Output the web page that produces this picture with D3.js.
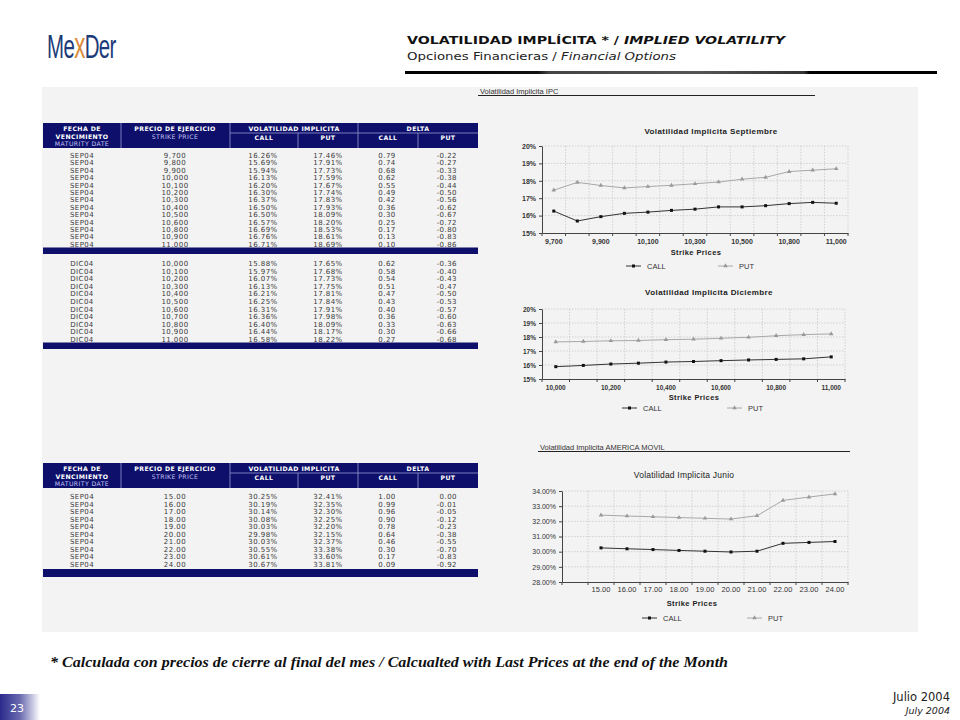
<!DOCTYPE html>
<html><head><meta charset="utf-8">
<script src="https://cdn.jsdelivr.net/npm/d3@7"></script>
<style>
html,body{margin:0;padding:0;background:#fff;}
svg{display:block;}
</style></head>
<body>
<svg id="page" width="960" height="720"></svg>
<script>
// ---------- DATA ----------
const sepStrikes = ["9,700","9,800","9,900","10,000","10,100","10,200","10,300","10,400","10,500","10,600","10,800","10,900","11,000"];
const sepCallVol = [16.26,15.69,15.94,16.13,16.20,16.30,16.37,16.50,16.50,16.57,16.69,16.76,16.71];
const sepPutVol  = [17.46,17.91,17.73,17.59,17.67,17.74,17.83,17.93,18.09,18.20,18.53,18.61,18.69];
const sepCallDelta = [0.79,0.74,0.68,0.62,0.55,0.49,0.42,0.36,0.30,0.25,0.17,0.13,0.10];
const sepPutDelta  = [-0.22,-0.27,-0.33,-0.38,-0.44,-0.50,-0.56,-0.62,-0.67,-0.72,-0.80,-0.83,-0.86];

const dicStrikes = ["10,000","10,100","10,200","10,300","10,400","10,500","10,600","10,700","10,800","10,900","11,000"];
const dicCallVol = [15.88,15.97,16.07,16.13,16.21,16.25,16.31,16.36,16.40,16.44,16.58];
const dicPutVol  = [17.65,17.68,17.73,17.75,17.81,17.84,17.91,17.98,18.09,18.17,18.22];
const dicCallDelta = [0.62,0.58,0.54,0.51,0.47,0.43,0.40,0.36,0.33,0.30,0.27];
const dicPutDelta  = [-0.36,-0.40,-0.43,-0.47,-0.50,-0.53,-0.57,-0.60,-0.63,-0.66,-0.68];

const amxStrikes = ["15.00","16.00","17.00","18.00","19.00","20.00","21.00","22.00","23.00","24.00"];
const amxCallVol = [30.25,30.19,30.14,30.08,30.03,29.98,30.03,30.55,30.61,30.67];
const amxPutVol  = [32.41,32.35,32.30,32.25,32.20,32.15,32.37,33.38,33.60,33.81];
const amxCallDelta = [1.00,0.99,0.96,0.90,0.78,0.64,0.46,0.30,0.17,0.09];
const amxPutDelta  = [0.00,-0.01,-0.05,-0.12,-0.23,-0.38,-0.55,-0.70,-0.83,-0.92];

const ipcTicks = [15,16,17,18,19,20];
const amxTicks = [28,29,30,31,32,33,34];

// ---------- PAGE ----------
const svg = d3.select("#page");
const NAVY = "#0d0f6b";
const TXT = "#3a3a3a";
const defs = svg.append("defs");
const f2 = v => v.toFixed(2);

// header rule gradient
const lg = defs.append("linearGradient").attr("id","rule").attr("x1","0").attr("x2","1");
lg.append("stop").attr("offset","0").attr("stop-color","#000");
lg.append("stop").attr("offset","0.25").attr("stop-color","#111");
lg.append("stop").attr("offset","0.27").attr("stop-color","#444");
lg.append("stop").attr("offset","0.55").attr("stop-color","#555");
lg.append("stop").attr("offset","0.75").attr("stop-color","#333");
lg.append("stop").attr("offset","0.76").attr("stop-color","#000");
lg.append("stop").attr("offset","1").attr("stop-color","#000");
const bg = defs.append("linearGradient").attr("id","badge").attr("x1","0").attr("x2","1");
bg.append("stop").attr("offset","0").attr("stop-color","#2b2b8c");
bg.append("stop").attr("offset","0.5").attr("stop-color","#6a6ab0");
bg.append("stop").attr("offset","1").attr("stop-color","#ffffff");

// Logo
const logo = svg.append("text").attr("transform","translate(47,58) scale(0.62,1)")
  .attr("font-family","Liberation Sans, Arial, sans-serif")
  .attr("font-size",33).attr("fill","#1d3b78").attr("letter-spacing",-1);
logo.append("tspan").text("Me");
logo.append("tspan").attr("fill","#d98b3c").attr("font-size",36).text("x");
logo.append("tspan").text("Der");

// Title
svg.append("text").attr("x",407).attr("y",44)
  .attr("font-family","DejaVu Sans, Verdana, sans-serif").attr("font-size",11).attr("font-weight","bold")
  .attr("fill","#111").attr("textLength",378).attr("lengthAdjust","spacingAndGlyphs")
  .html('VOLATILIDAD IMPLÍCITA * / <tspan font-style="italic">IMPLIED VOLATILITY</tspan>');
svg.append("text").attr("x",407).attr("y",60)
  .attr("font-family","DejaVu Sans, Verdana, sans-serif").attr("font-size",11)
  .attr("fill","#222").attr("textLength",269).attr("lengthAdjust","spacingAndGlyphs")
  .html('Opciones Financieras / <tspan font-style="italic">Financial Options</tspan>');
svg.append("rect").attr("x",405).attr("y",71).attr("width",532).attr("height",3).attr("fill","url(#rule)");

// Panel
svg.append("rect").attr("x",42).attr("y",87).attr("width",876).attr("height",545).attr("fill","#f3f3f3");

// ---------- TABLES ----------
const cols = {date:82, strike:175, cv:263, pv:328, cd:387, pd:457};
function tableHeader(y0){
  const g = svg.append("g");
  g.append("rect").attr("x",43).attr("y",y0).attr("width",435).attr("height",25).attr("fill",NAVY);
  const sep = "#9a9ad0";
  [[121,y0,y0+25],[230,y0,y0+25],[358,y0,y0+25],[298,y0+10,y0+25],[418,y0+10,y0+25]].forEach(d=>{
    g.append("line").attr("x1",d[0]).attr("x2",d[0]).attr("y1",d[1]).attr("y2",d[2]).attr("stroke",sep).attr("stroke-width",0.8);
  });
  g.append("line").attr("x1",230).attr("x2",478).attr("y1",y0+10).attr("y2",y0+10).attr("stroke",sep).attr("stroke-width",0.8);
  const t = (x,y,s,bold,col)=>g.append("text").attr("x",x).attr("y",y).attr("text-anchor","middle")
    .attr("dominant-baseline","central").attr("font-family","DejaVu Sans, Verdana, sans-serif")
    .attr("font-size",6.2).attr("font-weight",bold?"bold":"normal").attr("letter-spacing",0.4)
    .attr("fill",col||"#fff").text(s);
  t(82,y0+5,"FECHA DE",true);
  t(82,y0+13,"VENCIMIENTO",true);
  t(82,y0+20.5,"MATURITY DATE",false,"#c4c4f4");
  t(175,y0+5,"PRECIO DE EJERCICIO",true);
  t(175,y0+13,"STRIKE PRICE",false,"#c4c4f4");
  t(294,y0+5,"VOLATILIDAD IMPLICITA",true);
  t(264,y0+14,"CALL",true); t(328,y0+14,"PUT",true);
  t(418,y0+5,"DELTA",true);
  t(388,y0+14,"CALL",true); t(448,y0+14,"PUT",true);
}
function tableRows(y0, step, date, strikes, cv, pv, cd, pd){
  const g = svg.append("g").attr("font-family","DejaVu Sans, Verdana, sans-serif").attr("font-size",7)
    .attr("letter-spacing",0.45).attr("fill",TXT);
  const rows = g.selectAll("g").data(strikes).join("g").attr("transform",(d,i)=>`translate(0,${y0+i*step})`);
  const cell = (x,anchor,fn)=>rows.append("text").attr("x",x).attr("text-anchor",anchor).attr("dominant-baseline","central").text(fn);
  cell(cols.date,"middle",()=>date);
  cell(cols.strike,"middle",d=>d);
  cell(cols.cv,"middle",(d,i)=>f2(cv[i])+"%");
  cell(cols.pv,"middle",(d,i)=>f2(pv[i])+"%");
  cell(cols.cd,"middle",(d,i)=>f2(cd[i]));
  cell(cols.pd,"end",(d,i)=>f2(pd[i]));
}
function bar(y,h){ svg.append("rect").attr("x",43).attr("y",y).attr("width",435).attr("height",h).attr("fill",NAVY); }

tableHeader(123);
tableRows(156,7.4,"SEP04",sepStrikes,sepCallVol,sepPutVol,sepCallDelta,sepPutDelta);
bar(247.5,6.5);
tableRows(264,7.6,"DIC04",dicStrikes,dicCallVol,dicPutVol,dicCallDelta,dicPutDelta);
bar(342.5,6.5);

tableHeader(463);
tableRows(497,7.55,"SEP04",amxStrikes,amxCallVol,amxPutVol,amxCallDelta,amxPutDelta);
bar(569,8);

// ---------- CHARTS ----------
function sectionLabel(x,y,x2,s){
  svg.append("text").attr("x",x).attr("y",y).attr("dominant-baseline","central")
    .attr("font-family","Liberation Sans, Arial, sans-serif").attr("font-size",7.5).attr("fill","#333").text(s);
  svg.append("line").attr("x1",x-2).attr("x2",x2).attr("y1",y+4).attr("y2",y+4).attr("stroke","#222").attr("stroke-width",1);
}
sectionLabel(480,91.5,815,"Volatilidad Implicita IPC");
sectionLabel(540,447.5,850,"Volatilidad Implicita AMERICA MOVIL");

function lineChart(c){
  const g = svg.append("g").attr("font-family","Liberation Sans, Arial, sans-serif");
  const x = d3.scaleBand().domain(c.domainX).range([c.x0,c.x1]).paddingInner(0).paddingOuter(0);
  const y = d3.scaleLinear().domain([c.ticks[0],c.ticks[c.ticks.length-1]]).range([c.yBot,c.yTop]);
  const cx = d => x(d)+x.bandwidth()/2;
  // grid
  const bounds = c.domainX.slice(1).map(d=>x(d)).concat([c.x1]);
  g.append("g").selectAll("line").data(bounds).join("line")
    .attr("x1",d=>d).attr("x2",d=>d).attr("y1",c.yTop).attr("y2",c.yBot)
    .attr("stroke","#c8c8c8").attr("stroke-width",0.8).attr("stroke-dasharray","1.5,1.5");
  g.append("g").selectAll("line").data(c.ticks.slice(1)).join("line")
    .attr("x1",c.x0).attr("x2",c.x1).attr("y1",d=>y(d)).attr("y2",d=>y(d))
    .attr("stroke","#c8c8c8").attr("stroke-width",0.8).attr("stroke-dasharray","1.5,1.5");
  // axes
  const ya = g.append("g").attr("transform",`translate(${c.x0},0)`)
    .call(d3.axisLeft(y).tickValues(c.ticks).tickFormat(c.yFmt).tickSize(3).tickSizeOuter(0));
  ya.select(".domain").attr("stroke","#444");
  ya.selectAll(".tick line").attr("stroke","#444");
  ya.selectAll(".tick text").attr("font-size",c.yFont).attr("fill","#333").attr("font-weight",c.yBold?"bold":"normal")
    .attr("font-family","Liberation Sans, Arial, sans-serif");
  const xa = g.append("g").attr("transform",`translate(0,${c.yBot})`)
    .call(d3.axisBottom(x).tickValues(c.labels).tickSize(0).tickPadding(c.labPad));
  xa.select(".domain").attr("stroke","#444");
  xa.selectAll(".tick text").attr("font-size",c.xFont).attr("fill","#333").attr("font-weight",c.yBold?"bold":"normal")
    .attr("font-family","Liberation Sans, Arial, sans-serif");
  g.append("g").selectAll("line").data([c.x0].concat(bounds)).join("line")
    .attr("x1",d=>d).attr("x2",d=>d).attr("y1",c.yBot).attr("y2",c.yBot+3).attr("stroke","#444");
  // lines
  const ln = (vals)=>d3.line().x((d,i)=>cx(c.cats[i])).y(d=>y(d))(vals);
  g.append("path").attr("d",ln(c.put)).attr("fill","none").attr("stroke","#a8a8a8").attr("stroke-width",1);
  g.append("path").attr("d",ln(c.call)).attr("fill","none").attr("stroke","#333").attr("stroke-width",1);
  const tri = d3.symbol().type(d3.symbolTriangle).size(9);
  g.append("g").selectAll("path").data(c.put).join("path")
    .attr("transform",(d,i)=>`translate(${cx(c.cats[i])},${y(d)})`).attr("d",tri()).attr("fill","#999");
  g.append("g").selectAll("rect").data(c.call).join("rect")
    .attr("x",(d,i)=>cx(c.cats[i])-1.5).attr("y",d=>y(d)-1.5).attr("width",3).attr("height",3).attr("fill","#111");
  // titles
  g.append("text").attr("x",c.titleX).attr("y",c.titleY).attr("text-anchor","middle").attr("dominant-baseline","central")
    .attr("font-size",c.titleSize).attr("font-weight",c.titleBold?"bold":"normal").attr("fill","#222")
    .attr("letter-spacing",c.titleBold?0.4:0.2).text(c.title);
  g.append("text").attr("x",c.spX).attr("y",c.spY).attr("text-anchor","middle").attr("dominant-baseline","central")
    .attr("font-size",7.5).attr("font-weight","bold").attr("letter-spacing",0.4).attr("fill","#222").text("Strike Prices");
  // legend
  const L = g.append("g").attr("font-size",7.5).attr("fill","#333");
  L.append("line").attr("x1",c.legCall).attr("x2",c.legCall+15).attr("y1",c.legY).attr("y2",c.legY).attr("stroke","#333");
  L.append("rect").attr("x",c.legCall+6).attr("y",c.legY-1.5).attr("width",3).attr("height",3).attr("fill","#111");
  L.append("text").attr("x",c.legCall+21).attr("y",c.legY).attr("dominant-baseline","central").text("CALL");
  L.append("line").attr("x1",c.legPut).attr("x2",c.legPut+15).attr("y1",c.legY).attr("y2",c.legY).attr("stroke","#a8a8a8");
  L.append("path").attr("transform",`translate(${c.legPut+7.5},${c.legY})`).attr("d",tri()).attr("fill","#999");
  L.append("text").attr("x",c.legPut+21).attr("y",c.legY).attr("dominant-baseline","central").text("PUT");
}

lineChart({cats:sepStrikes, domainX:sepStrikes, labels:sepStrikes.filter((d,i)=>i%2===0),
  call:sepCallVol, put:sepPutVol, ticks:ipcTicks, yFmt:d=>d+"%", yFont:7, xFont:7, yBold:true, labPad:6,
  x0:542, x1:848, yTop:146, yBot:233, title:"Volatilidad Implicita  Septiembre", titleX:711, titleY:131, titleSize:8, titleBold:true,
  spX:696, spY:252, legY:266, legCall:626, legPut:718});

lineChart({cats:dicStrikes, domainX:dicStrikes, labels:dicStrikes.filter((d,i)=>i%2===0),
  call:dicCallVol, put:dicPutVol, ticks:ipcTicks, yFmt:d=>d+"%", yFont:6.5, xFont:6.5, yBold:true, labPad:6,
  x0:542, x1:845, yTop:309, yBot:379, title:"Volatilidad Implicita  Diciembre", titleX:709, titleY:292, titleSize:8, titleBold:true,
  spX:694, spY:397, legY:408, legCall:622, legPut:727});

lineChart({cats:amxStrikes, domainX:[""].concat(amxStrikes), labels:amxStrikes,
  call:amxCallVol, put:amxPutVol, ticks:amxTicks, yFmt:d=>d.toFixed(2)+"%", yFont:7, xFont:7.5, yBold:false, labPad:5,
  x0:562, x1:848, yTop:491, yBot:582, title:"Volatilidad Implicita Junio", titleX:684, titleY:475, titleSize:8.5, titleBold:false,
  spX:692, spY:603, legY:618, legCall:642, legPut:747});

// ---------- FOOTER ----------
svg.append("text").attr("x",50).attr("y",667)
  .attr("font-family","Liberation Serif, Times New Roman, serif").attr("font-size",14.5)
  .attr("font-weight","bold").attr("font-style","italic").attr("fill","#111")
  .attr("textLength",678).attr("lengthAdjust","spacingAndGlyphs")
  .text("* Calculada con precios de cierre al final del mes / Calcualted with Last Prices at the end of the Month");
svg.append("text").attr("x",950).attr("y",701).attr("text-anchor","end")
  .attr("font-family","DejaVu Sans, Tahoma, sans-serif").attr("font-size",11.5).attr("fill","#222").text("Julio  2004");
svg.append("text").attr("x",950).attr("y",714).attr("text-anchor","end")
  .attr("font-family","DejaVu Sans, Tahoma, sans-serif").attr("font-size",9.5).attr("font-style","italic").attr("fill","#222").text("July 2004");
svg.append("rect").attr("x",0).attr("y",694).attr("width",40).attr("height",26).attr("fill","url(#badge)");
svg.append("text").attr("x",10).attr("y",712).attr("font-family","DejaVu Sans, Tahoma, sans-serif")
  .attr("font-size",11).attr("fill","#fff").text("23");
</script>
</body></html>
